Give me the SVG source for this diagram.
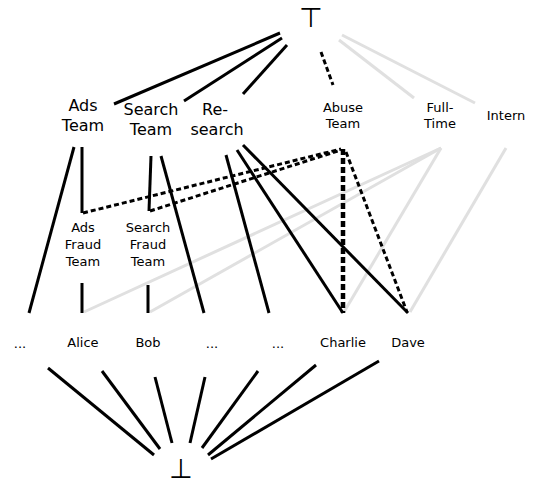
<svg xmlns="http://www.w3.org/2000/svg" width="536" height="484" viewBox="0 0 536 484">
  <style>
    text { font-family: "DejaVu Sans", "Liberation Sans", sans-serif; fill: #000; text-anchor: middle; }
    .big { font-size: 16px; }
    .small { font-size: 13px; }
    .sym { font-size: 27px; }
    .solid { stroke: #000; stroke-width: 3; fill: none; }
    .light { stroke: #e0e0e0; stroke-width: 3; fill: none; }
    .dash { stroke: #000; stroke-width: 3; stroke-dasharray: 5 3; fill: none; }
    .dash-thick { stroke: #000; stroke-width: 4.5; stroke-dasharray: 6 3; fill: none; }
  </style>
  <rect width="536" height="484" fill="#fff"/>

  <g id="connectors">
    <!-- employment-type edges (light) -->
    <line class="light" x1="339" y1="40" x2="414" y2="98"/>
    <line class="light" x1="342" y1="35" x2="475" y2="103"/>
    <line class="light" x1="441" y1="148" x2="84" y2="312"/>
    <line class="light" x1="441" y1="148" x2="150" y2="312"/>
    <line class="light" x1="441" y1="148" x2="344" y2="312"/>
    <line class="light" x1="506" y1="148" x2="410" y2="312"/>

    <!-- top to teams -->
    <line class="solid" x1="280" y1="33" x2="114" y2="104"/>
    <line class="solid" x1="282" y1="38" x2="184" y2="101"/>
    <line class="solid" x1="287" y1="45" x2="243" y2="94"/>
    <line class="dash" x1="321" y1="52" x2="333" y2="85"/>

    <!-- teams to sub-teams and people -->
    <line class="solid" x1="74" y1="147" x2="29" y2="313"/>
    <line class="solid" x1="82" y1="147" x2="82" y2="213"/>
    <line class="solid" x1="82" y1="283" x2="82" y2="313"/>
    <line class="solid" x1="151" y1="156" x2="149" y2="211"/>
    <line class="solid" x1="161" y1="156" x2="204" y2="313"/>
    <line class="solid" x1="148" y1="285" x2="148" y2="313"/>
    <line class="solid" x1="226" y1="155" x2="269" y2="313"/>
    <line class="solid" x1="237" y1="150" x2="343" y2="313"/>
    <line class="solid" x1="243" y1="145" x2="408" y2="313"/>

    <!-- abuse team edges -->
    <line class="dash" x1="83" y1="213" x2="341" y2="149"/>
    <line class="dash" x1="150" y1="211" x2="341" y2="150"/>
    <line class="dash-thick" x1="343" y1="149" x2="343" y2="313"/>
    <line class="dash" x1="346" y1="152" x2="407" y2="312"/>

    <!-- people to bottom -->
    <line class="solid" x1="48" y1="368" x2="154" y2="455"/>
    <line class="solid" x1="102" y1="371" x2="160" y2="449"/>
    <line class="solid" x1="155" y1="377" x2="172" y2="443"/>
    <line class="solid" x1="205" y1="377" x2="190" y2="443"/>
    <line class="solid" x1="258" y1="371" x2="202" y2="448"/>
    <line class="solid" x1="316" y1="365" x2="208" y2="455"/>
    <line class="solid" x1="379" y1="361" x2="211" y2="459"/>
  </g>

  <g id="top"><text class="sym" x="311" y="27">⊤</text></g>
  <g id="bottom"><text class="sym" x="181" y="478">⊥</text></g>

  <g id="ads-team"><text class="big" x="83" y="111">Ads</text><text class="big" x="83" y="131">Team</text></g>
  <g id="search-team"><text class="big" x="151" y="115">Search</text><text class="big" x="151" y="135">Team</text></g>
  <g id="research"><text class="big" x="215" y="115">Re-</text><text class="big" x="217" y="135">search</text></g>
  <g id="abuse-team"><text class="small" x="343" y="112">Abuse</text><text class="small" x="343" y="128">Team</text></g>
  <g id="full-time"><text class="small" x="440" y="112">Full-</text><text class="small" x="440" y="128">Time</text></g>
  <g id="intern"><text class="small" x="506" y="120">Intern</text></g>

  <g id="ads-fraud-team"><text class="small" x="83" y="232">Ads</text><text class="small" x="83" y="249">Fraud</text><text class="small" x="83" y="266">Team</text></g>
  <g id="search-fraud-team"><text class="small" x="148" y="232">Search</text><text class="small" x="148" y="249">Fraud</text><text class="small" x="148" y="266">Team</text></g>

  <g id="others-1"><text class="small" x="20" y="348">...</text></g>
  <g id="alice"><text class="small" x="83" y="347">Alice</text></g>
  <g id="bob"><text class="small" x="148" y="347">Bob</text></g>
  <g id="others-2"><text class="small" x="212" y="348">...</text></g>
  <g id="others-3"><text class="small" x="278" y="348">...</text></g>
  <g id="charlie"><text class="small" x="343" y="347">Charlie</text></g>
  <g id="dave"><text class="small" x="408" y="347">Dave</text></g>
</svg>
